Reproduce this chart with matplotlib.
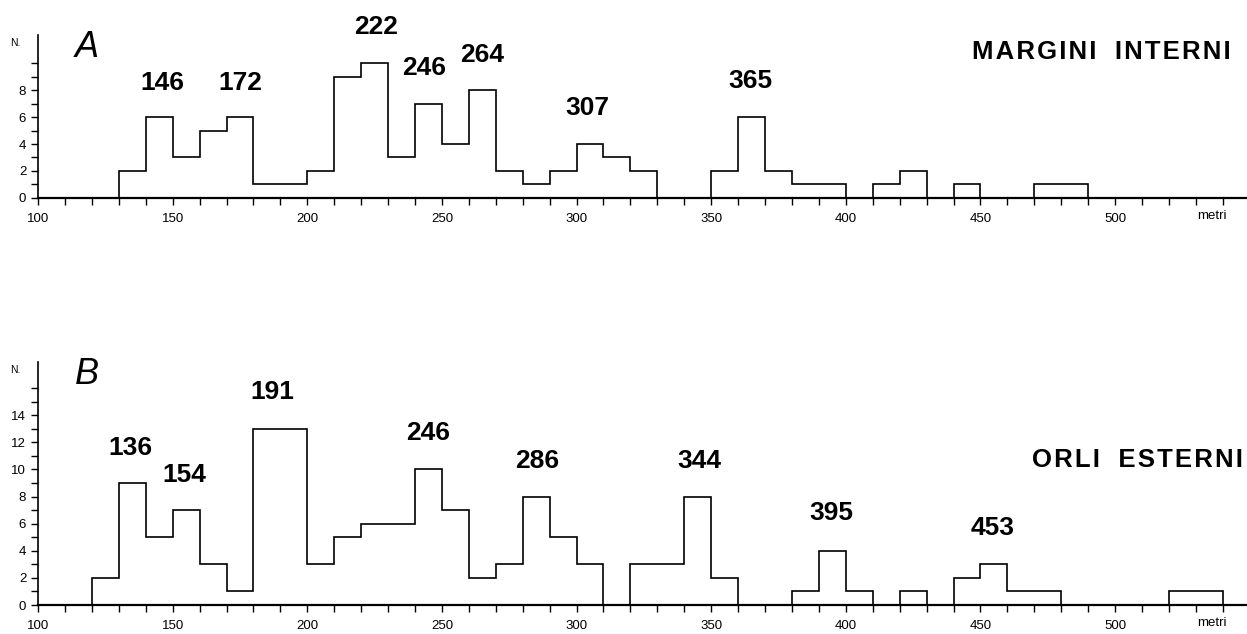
import numpy as np
import matplotlib
matplotlib.use("Agg")
from matplotlib import pyplot as plt

plt.rcParams['font.family'] = ['Liberation Sans', 'DejaVu Sans']

# bins of 10 m starting at 100 m
bin_start = 100
bin_width = 10

counts_a = [0, 0, 0, 2, 6, 3, 5, 6, 1, 1, 2, 9, 10, 3, 7, 4, 8, 2, 1, 2,
            4, 3, 2, 0, 0, 2, 6, 2, 1, 1, 0, 1, 2, 0, 1, 0, 0, 1, 1, 0,
            0, 0, 0, 0, 0]
counts_b = [0, 0, 2, 9, 5, 7, 3, 1, 13, 13, 3, 5, 6, 6, 10, 7, 2, 3, 8, 5,
            3, 0, 3, 3, 8, 2, 0, 0, 1, 4, 1, 0, 1, 0, 2, 3, 1, 1, 0, 0,
            0, 0, 1, 1, 0]

# peak labels: text, x, y (data units)
peaks_a = [("146", 146, 8.5), ("172", 175, 8.5), ("222", 225.5, 12.7),
           ("246", 243.5, 9.6), ("264", 265, 10.6), ("307", 304, 6.7),
           ("365", 364.5, 8.7)]
peaks_b = [("136", 134.5, 11.6), ("154", 154.5, 9.6), ("191", 187, 15.7),
           ("246", 245, 12.7), ("286", 285.5, 10.6), ("344", 345.5, 10.6),
           ("395", 394.5, 6.8), ("453", 454.5, 5.7)]


def spaced(words):
    # letter-spaced caps, like the printed original
    return "\u200a  \u200a".join("\u200a".join(w) for w in words.split())


def draw_panel(ax, counts, peaks, ymax, ylabels_max, yminor_max, letter):
    edges = bin_start + bin_width * np.arange(len(counts) + 1)
    ax.stairs(counts, edges, baseline=0, color='black', lw=1.2)
    ax.set_xlim(100, 549)
    ax.set_ylim(0, ymax)
    for s in ['top', 'right']:
        ax.spines[s].set_visible(False)
    ax.spines['left'].set_linewidth(1.2)
    ax.spines['bottom'].set_linewidth(1.6)
    ax.set_xticks(np.arange(100, 501, 50))
    ax.set_xticks(np.arange(110, 550, 10), minor=True)
    ax.set_yticks(np.arange(0, ylabels_max + 1, 2))
    ax.set_yticks(np.arange(1, yminor_max + 1, 1), minor=True)
    ax.tick_params(which='both', direction='out', length=5, width=1, labelsize=9.5)
    ax.tick_params(axis='x', pad=6)
    ax.set_facecolor('none')
    for txt, x, y in peaks:
        ax.text(x, y, txt, ha='center', va='center', fontsize=19,
                fontweight='bold', clip_on=False)
    ax.text(118, ymax - 0.9, letter, fontsize=26, style='italic',
            ha='center', va='center', clip_on=False)
    ax.annotate("metri", xy=(536, 0), xycoords=('data', 'axes fraction'),
                xytext=(0, -18), textcoords='offset pixels',
                fontsize=9.5, ha='center', va='center')
    ax.annotate("N.", xy=(0, 1), xycoords='axes fraction',
                xytext=(-23, -8), textcoords='offset pixels',
                fontsize=7.5, ha='center', va='center')


fig = plt.figure(figsize=(12.47, 6.34), dpi=100)
ax1 = fig.add_axes([0.0305, 0.6877, 0.9695, 0.257])
ax2 = fig.add_axes([0.0305, 0.0457, 0.9695, 0.383])

draw_panel(ax1, counts_a, peaks_a, 12.07, 8, 10, "A")
draw_panel(ax2, counts_b, peaks_b, 17.9, 14, 16, "B")

fig.text(972 / 1247, 1 - 52 / 634, spaced("MARGINI INTERNI"),
         fontsize=18.5, fontweight='bold', ha='left', va='center')
fig.text(1032 / 1247, 1 - 460 / 634, spaced("ORLI ESTERNI"),
         fontsize=18.5, fontweight='bold', ha='left', va='center')

fig.savefig("out.png", dpi=100)
